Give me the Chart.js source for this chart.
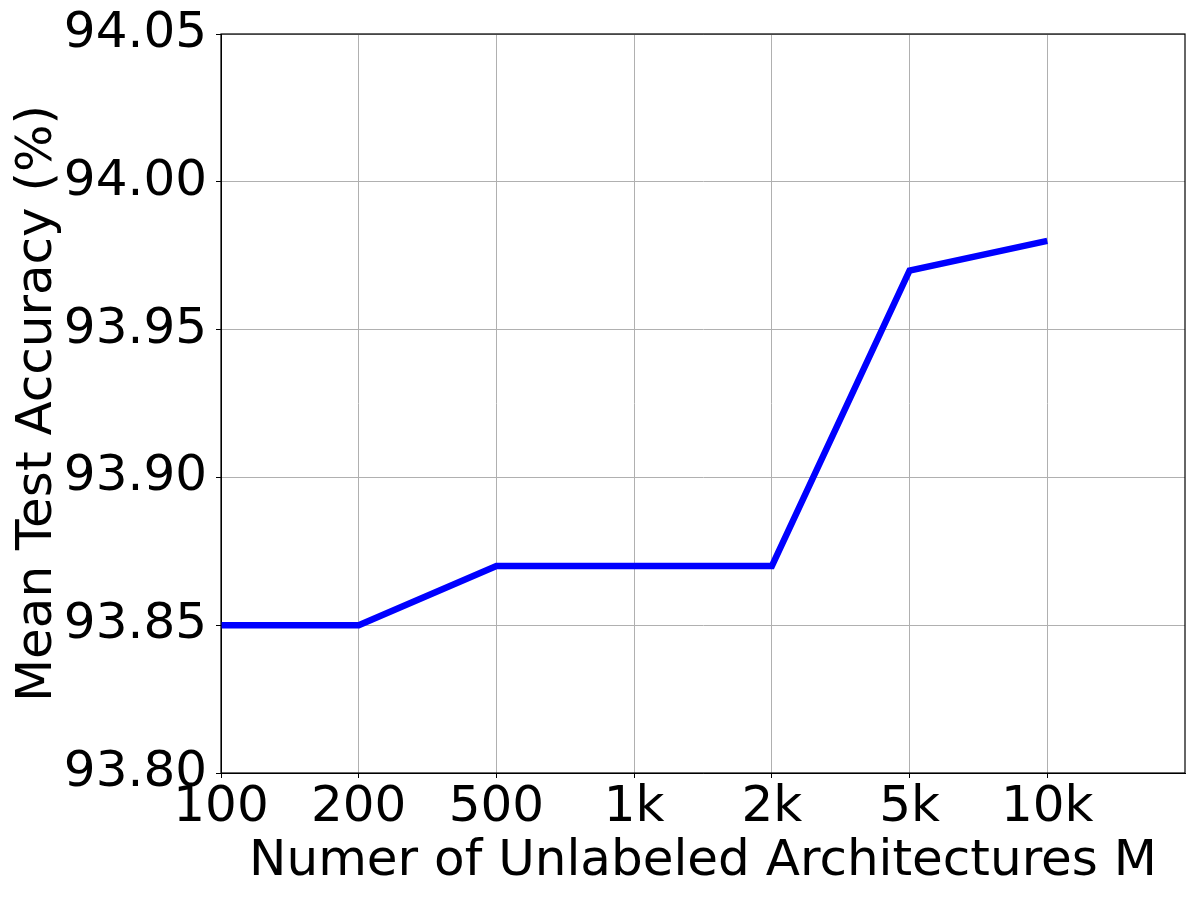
<!DOCTYPE html>
<html>
<head>
<meta charset="utf-8">
<script src="https://cdn.jsdelivr.net/npm/chart.js@4.4.1/dist/chart.umd.min.js"></script>
<style>
  html, body { margin: 0; padding: 0; background: #fff; }
  #wrap { width: 1200px; height: 900px; }
</style>
</head>
<body>
<div id="wrap"><canvas id="myChart" width="1200" height="900"></canvas></div>
<script>
const sizeLabels = ['100', '200', '500', '1k', '2k', '5k', '10k'];
const accuracy = [93.85, 93.85, 93.87, 93.87, 93.87, 93.97, 93.98];
const yMin = 93.80;
const yMax = 94.05;
const yStep = 0.05;

const points = accuracy.map((v, i) => ({ x: i, y: v }));

// black frame on top of the grid, like matplotlib spines
const framePlugin = {
    id: 'frame',
    afterDraw(chart) {
        const a = chart.chartArea;
        const ctx = chart.ctx;
        ctx.save();
        ctx.strokeStyle = '#000';
        ctx.lineWidth = 1.2;
        ctx.strokeRect(a.left, a.top, a.right - a.left, a.bottom - a.top);
        ctx.restore();
    }
};

const font = { family: 'DejaVu Sans', size: 50 };

const config = {
    type: 'line',
    data: {
        datasets: [{
            data: points,
            borderColor: '#0000ff',
            borderWidth: 6.5,
            borderCapStyle: 'butt',
            pointRadius: 0,
            tension: 0,
            fill: false
        }]
    },
    options: {
        responsive: false,
        animation: false,
        events: [],
        layout: { padding: { left: 0, right: 15, top: 34, bottom: 0 } },
        plugins: { legend: { display: false }, tooltip: { enabled: false } },
        scales: {
            x: {
                type: 'linear',
                min: 0,
                max: sizeLabels.length,
                afterBuildTicks: (scale) => {
                    scale.ticks = sizeLabels.map((_, i) => ({ value: i }));
                },
                afterFit: (scale) => {
                    scale.height = 127;
                    scale.paddingLeft = 0;
                    scale.paddingRight = 0;
                },
                ticks: {
                    color: '#000',
                    font: font,
                    padding: 0,
                    maxRotation: 0,
                    autoSkip: false,
                    callback: (v) => sizeLabels[v] || ''
                },
                grid: {
                    color: '#b0b0b0',
                    lineWidth: 1,
                    tickLength: 5,
                    tickColor: '#000'
                },
                border: { color: '#000', width: 1 },
                title: {
                    display: true,
                    text: 'Numer of Unlabeled Architectures M',
                    color: '#000',
                    font: font,
                    padding: { top: 0, bottom: 8 }
                }
            },
            y: {
                min: yMin,
                max: yMax,
                afterFit: (scale) => {
                    scale.width = 221;
                    scale.paddingTop = 0;
                    scale.paddingBottom = 0;
                },
                ticks: {
                    stepSize: yStep,
                    color: '#000',
                    font: font,
                    padding: 9,
                    callback: (v) => v.toFixed(2)
                },
                grid: {
                    color: '#b0b0b0',
                    lineWidth: 1,
                    tickLength: 5,
                    tickColor: '#000'
                },
                border: { color: '#000', width: 1 },
                title: {
                    display: true,
                    text: 'Mean Test Accuracy (%)',
                    color: '#000',
                    font: font,
                    padding: { top: 8, bottom: 0 }
                }
            }
        }
    },
    plugins: [framePlugin]
};

const myChart = new Chart(document.getElementById('myChart'), config);
</script>
</body>
</html>
